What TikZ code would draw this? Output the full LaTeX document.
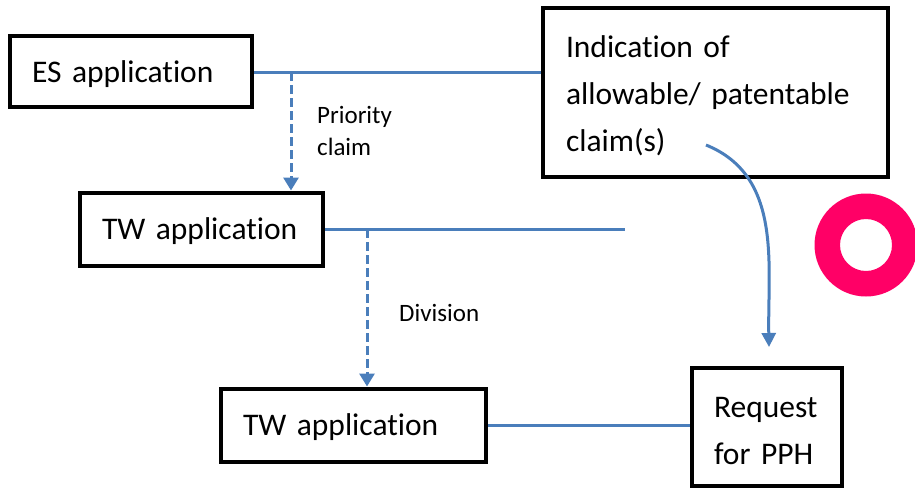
\documentclass[tikz,border=0pt]{standalone}
\usepackage{fontspec}
\setmainfont[Ligatures=CommonOff]{Carlito}
\usetikzlibrary{arrows.meta}
\definecolor{linkblue}{HTML}{4A7EBB}
\definecolor{ringpink}{HTML}{FF0066}
\begin{document}
\begin{tikzpicture}[x=1pt,y=-1pt,
  box/.style={draw=black, line width=4pt, fill=white, inner sep=0pt, inner xsep=22pt,
    font=\fontsize{31.5}{47}\selectfont, align=left, text height=25pt, text depth=4pt},
  txt/.style={inner sep=0pt, font=\fontsize{31.5}{47}\selectfont, align=left},
  lbl/.style={inner sep=0pt, font=\fontsize{25}{32}\selectfont, align=left, anchor=west},
  link/.style={draw=linkblue, line width=3pt},
  dlink/.style={draw=linkblue, line width=3pt, dash pattern=on 9pt off 4pt,
    -{Triangle[length=13pt,width=15pt]}},
  clink/.style={draw=linkblue, line width=3pt, -{Triangle[length=14pt,width=14pt]}}
]
\clip (0,0) rectangle (915,488);
\fill[white] (0,0) rectangle (915,488);

\node[box, minimum width=242pt, minimum height=71pt, text width=198pt] (es) at (131,71.5) {ES application};
\node[box, minimum width=243pt, minimum height=73pt, text width=199pt] (tw1) at (201.5,229) {TW application};
\node[box, minimum width=265pt, minimum height=73pt, text width=221pt] (tw2) at (353.5,425) {TW application};
\node[box, minimum width=345pt, minimum height=169pt] (ind) at (715.5,92.5) {};
\node[txt, text width=301pt] (indt) at (716.5,95.5) {Indication of\\allowable/ patentable\\claim(s)};
\node[box, line width=3.5pt, minimum width=150pt, minimum height=118pt] (req) at (767,427) {};
\node[txt, text width=106pt] (reqt) at (767,431) {Request\\for PPH};

\node[lbl] (pc) at (317,131) {Priority\\claim};
\node[lbl] (dv) at (399,313) {Division};

\coordinate (j1) at (291,72);
\coordinate (j2) at (367,229);
\coordinate (e2) at (625,229);
\coordinate (c0) at (706,145);
\coordinate (c1) at (769,347);

\draw[link] (es.east |- j1) -- (j1 -| ind.west);
\draw[dlink] (j1) -- (j1 |- tw1.north);
\draw[link] (tw1.east) -- (e2);
\draw[dlink] (j2) -- (j2 |- tw2.north);
\draw[link] (tw2.east) -- (tw2.east -| req.west);
\draw[clink] (c0) to[out=-22, in=91] (c1);

\fill[ringpink, even odd rule] (866,245) circle (51.5) (866,245) circle (26);
\end{tikzpicture}
\end{document}
